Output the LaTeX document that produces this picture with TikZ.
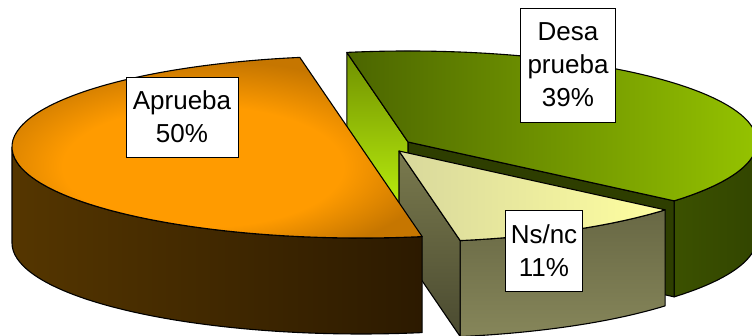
\documentclass[tikz,border=0pt]{standalone}
\usepackage{fontspec}
\setmainfont{Liberation Sans}
\definecolor{orgtop}{HTML}{FF9B00}
\definecolor{orgtopdark}{HTML}{C67600}
\definecolor{orgside}{HTML}{7A4C00}
\definecolor{orgsidedark}{HTML}{2C1A00}
\definecolor{orgsideleft}{HTML}{553600}
\definecolor{grntop}{HTML}{9CCC00}
\definecolor{grntopdark}{HTML}{4B6500}
\definecolor{grnwall}{HTML}{C8FF10}
\definecolor{grnwalltop}{HTML}{6F9000}
\definecolor{grnside}{HTML}{5A7800}
\definecolor{grnsidedark}{HTML}{324500}
\definecolor{grncut}{HTML}{2E3E00}
\definecolor{nstop}{HTML}{FFFFA0}
\definecolor{nstopdark}{HTML}{D8D89C}
\definecolor{nsside}{HTML}{86865A}
\definecolor{nssidedark}{HTML}{5A5A3A}
\definecolor{nswall}{HTML}{7A7A4E}
\definecolor{nswalldark}{HTML}{4A4A30}
\pgfdeclareradialshading{orgglow}{\pgfpoint{0bp}{-6bp}}{%
  color(0bp)=(orgtop); color(16bp)=(orgtop); color(27bp)=(orgtopdark); color(50bp)=(orgtopdark)}
\def\piea{349}
\def\pieb{91}
\def\pieh{96}
\begin{document}
\begin{tikzpicture}[
  x=1pt, y=1pt,
  face/.style={draw=black, line width=1.1pt, line join=round},
  pctbox/.style={rectangle, draw, fill=white, line width=0.8pt, align=center,
    inner sep=0pt, font=\fontsize{26pt}{33pt}\selectfont}
]
\useasboundingbox (0,0) rectangle (752,336);
\clip (0,0) rectangle (752,336);

\coordinate (O) at (361,189);
\coordinate (G) at (408,194);
\coordinate (N) at (399,185);

% Desaprueba slice
\shadedraw[face, left color=grnside, right color=grnsidedark]
  (G) ++(-40.3:349 and 91) arc[start angle=-40.3, end angle=0, x radius=\piea, y radius=\pieb]
  -- ++(0,-\pieh) arc[start angle=0, end angle=-40.3, x radius=\piea, y radius=\pieb] -- cycle;
\filldraw[face, fill=grncut]
  (G) -- ++(-40.3:349 and 91) -- ++(0,-\pieh) -- ([yshift=-\pieh pt]G) -- cycle;
\shadedraw[face, top color=grnwalltop, bottom color=grnwall]
  (G) -- ++(100.1:349 and 91) -- ++(0,-\pieh) -- ([yshift=-\pieh pt]G) -- cycle;
\shadedraw[face, left color=grntopdark, right color=grntop]
  (G) -- ++(-40.3:349 and 91) arc[start angle=-40.3, end angle=100.1, x radius=\piea, y radius=\pieb] -- cycle;

% Ns/nc slice
\shadedraw[face, top color=nssidedark, bottom color=nsside]
  (N) ++(-79.9:349 and 91) arc[start angle=-79.9, end angle=-40.3, x radius=\piea, y radius=\pieb]
  -- ++(0,-\pieh) arc[start angle=-40.3, end angle=-79.9, x radius=\piea, y radius=\pieb] -- cycle;
\shadedraw[face, top color=nswall, bottom color=nswalldark]
  (N) -- ++(-79.9:349 and 91) -- ++(0,-\pieh) -- ([yshift=-\pieh pt]N) -- cycle;
\shadedraw[face, left color=nstopdark, right color=nstop]
  (N) -- ++(-79.9:349 and 91) arc[start angle=-79.9, end angle=-40.3, x radius=\piea, y radius=\pieb] -- cycle;

% Aprueba slice
\shadedraw[face, left color=orgsideleft, middle color=orgside, right color=orgsidedark]
  (O) ++(180:349 and 91) arc[start angle=180, end angle=280.1, x radius=\piea, y radius=\pieb]
  -- ++(0,-\pieh) arc[start angle=280.1, end angle=180, x radius=\piea, y radius=\pieb] -- cycle;
\shadedraw[face, shading=orgglow]
  (O) ++(100.1:349 and 91) arc[start angle=100.1, end angle=280.1, x radius=\piea, y radius=\pieb] -- cycle;

% labels
\node[pctbox, minimum width=112pt, minimum height=80pt] (aprueba) at (182,219) {Aprueba\\50\%};
\node[pctbox, minimum width=95pt, minimum height=114pt] (desaprueba) at (568,271) {Desa\\prueba\\39\%};
\node[pctbox, minimum width=77pt, minimum height=81pt] (nsnc) at (544,85) {Ns/nc\\11\%};
\end{tikzpicture}
\end{document}
